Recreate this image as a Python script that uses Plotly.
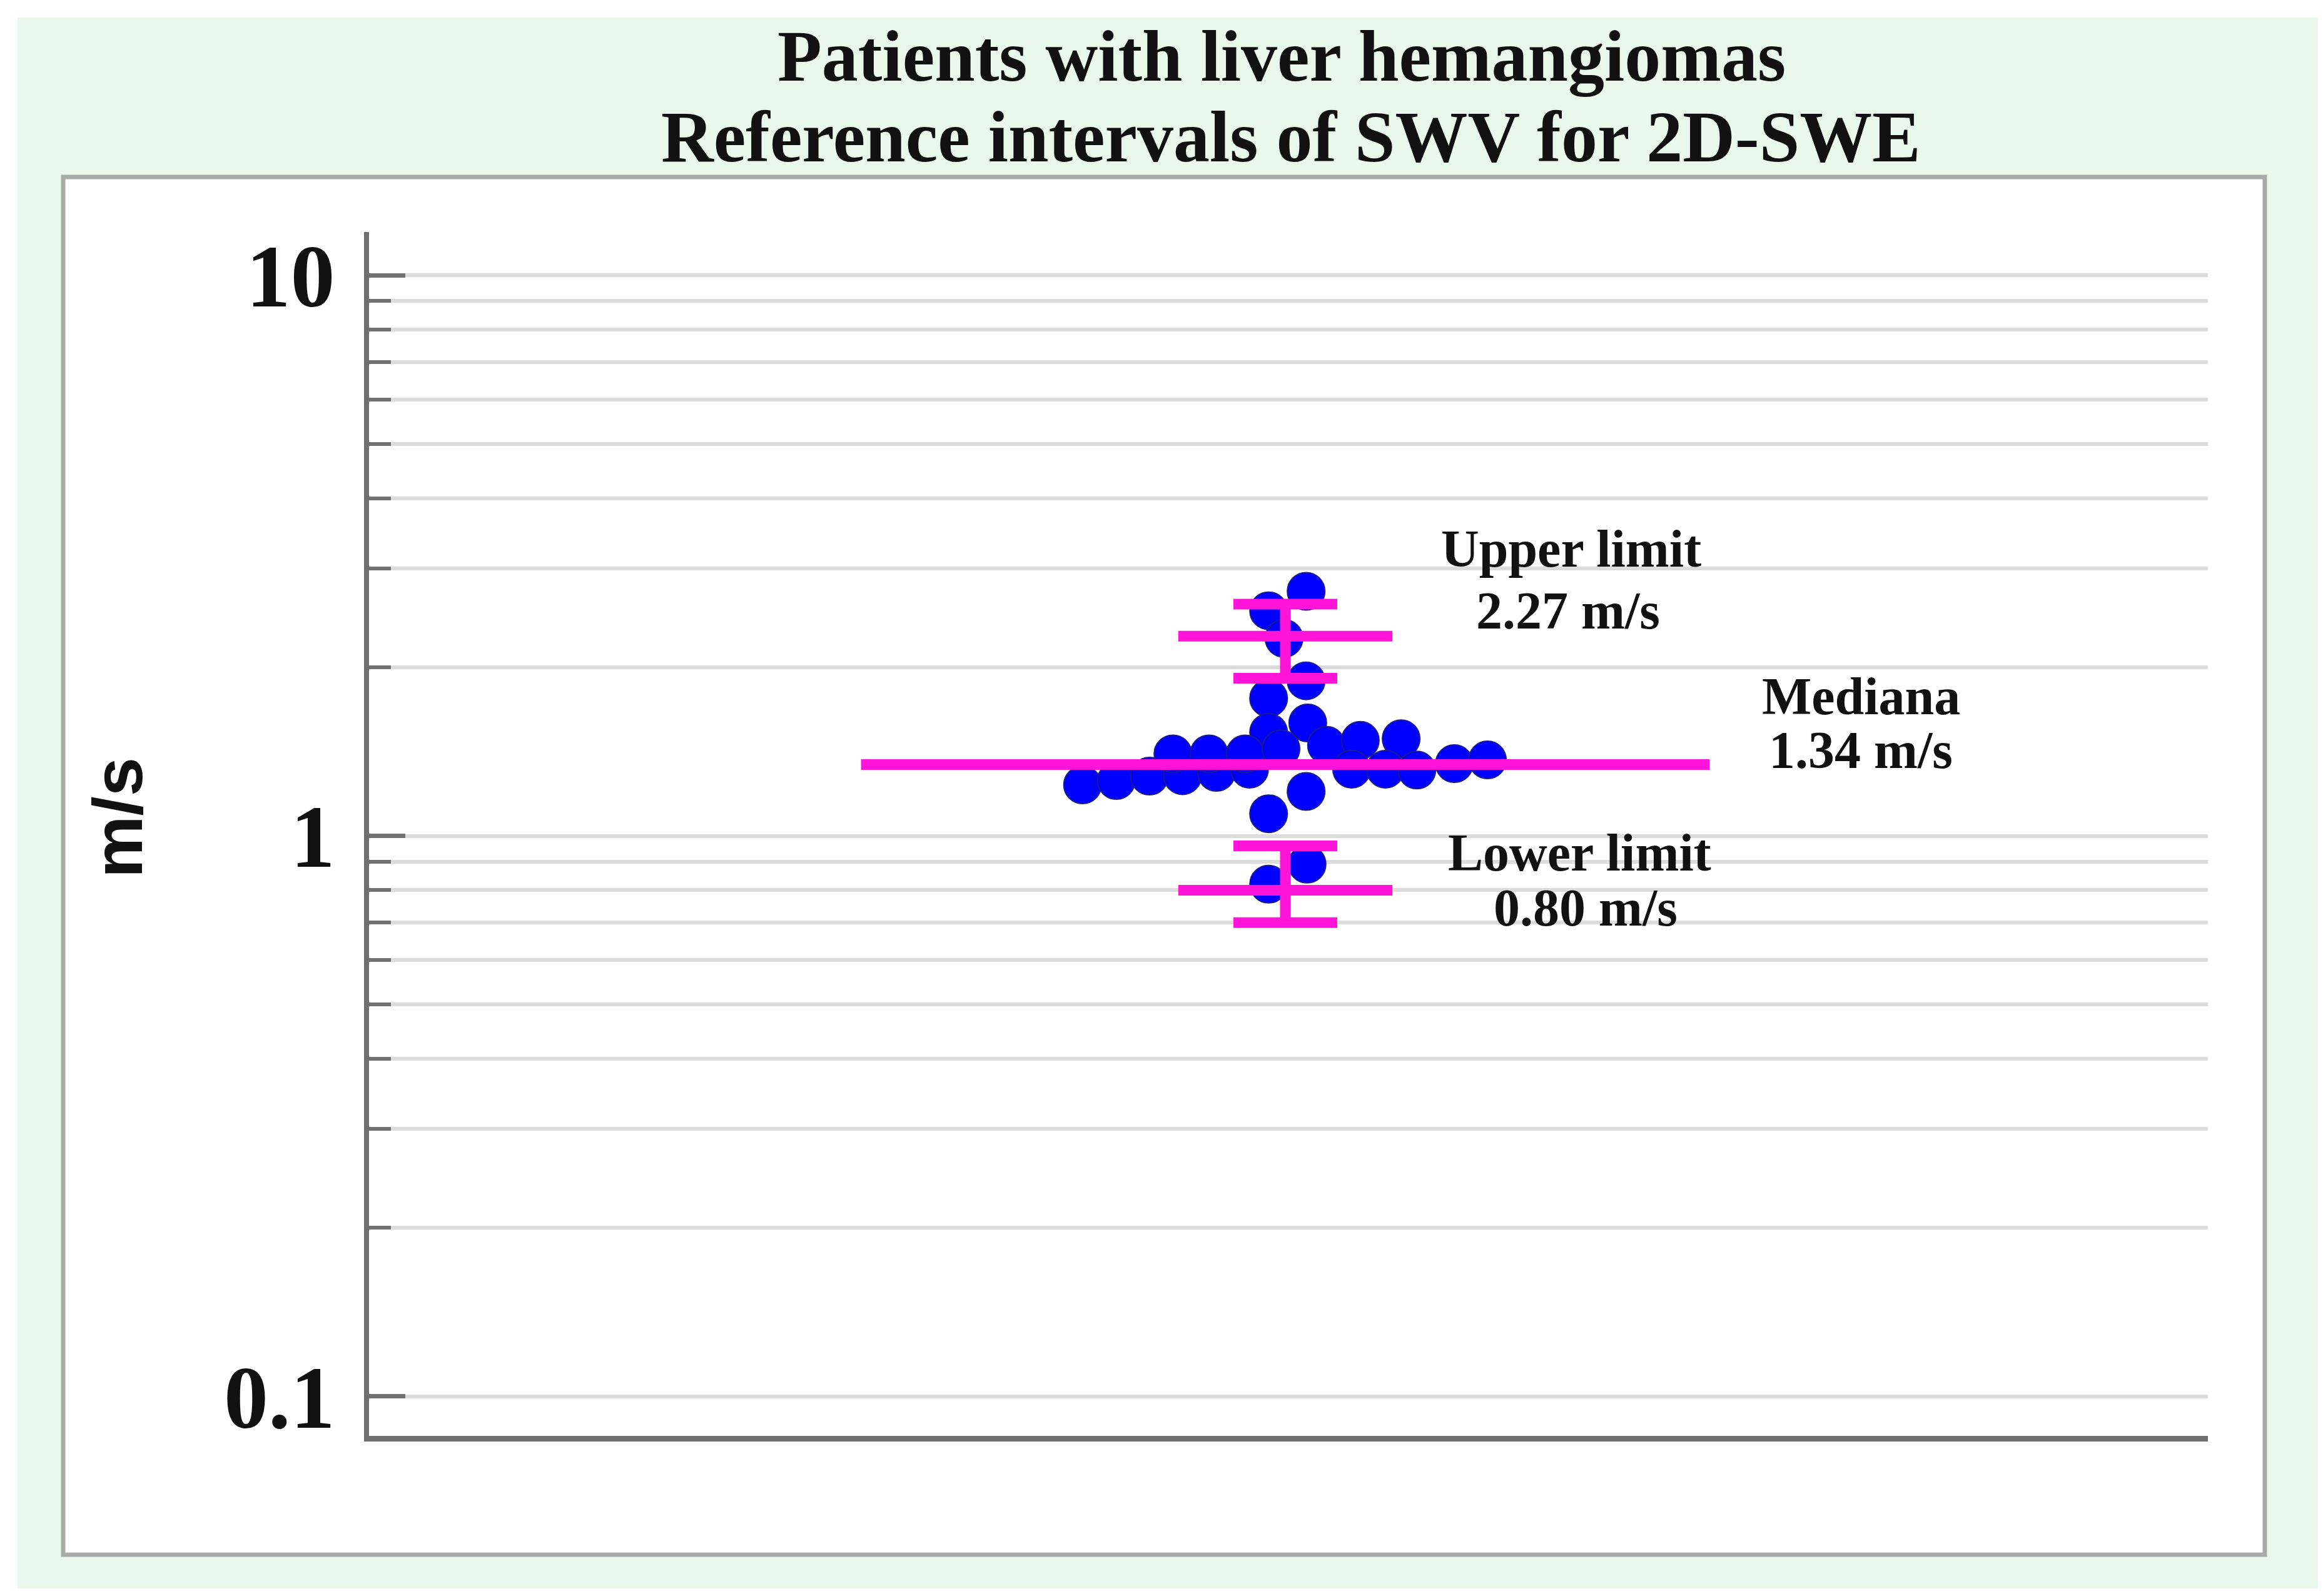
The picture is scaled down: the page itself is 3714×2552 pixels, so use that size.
import math
import plotly.graph_objects as go

# ---------------- data ----------------
# SWV values of the individual patients (m/s) and their horizontal swarm offset (dot widths)
swv_values = [2.73, 2.52, 2.25, 1.89, 1.76, 1.59, 1.53, 1.20, 1.095, 0.89, 0.82,
              1.233, 1.255, 1.278, 1.28, 1.298, 1.315,
              1.40, 1.40, 1.40,
              1.43, 1.45,
              1.48, 1.49,
              1.315, 1.315, 1.31,
              1.345, 1.366]
swarm_offset = [0.62, -0.50, -0.04, 0.62, -0.50, 0.67, -0.50, 0.62, -0.50, 0.65, -0.50,
                -6.06, -5.05, -4.06, -3.07, -2.06, -1.07,
                -3.36, -2.28, -1.20,
                -0.13, 1.23,
                2.24, 3.46,
                1.98, 2.99, 3.93,
                5.05, 6.04]

median_value = 1.34
limit_names = ["Upper limit", "Lower limit"]
limit_values = [2.27, 0.80]
limit_ci_low = [1.91, 0.70]
limit_ci_high = [2.59, 0.96]

major_ticks = [0.1, 1, 10]
major_labels = ["0.1", "1", "10"]
minor_ticks = [0.2, 0.3, 0.4, 0.5, 0.6, 0.7, 0.8, 0.9, 2, 3, 4, 5, 6, 7, 8, 9]

title_lines = ["Patients with liver hemangiomas", "Reference intervals of SWV for 2D-SWE"]
y_title = "m/s"

# ---------------- geometry / style ----------------
W, H = 3714, 2552
ML, MR, MT, MB = 582, 192, 363, 264
PW, PH = W - ML - MR, H - MT - MB
DOT_PX = 53.5          # px per x unit (one dot width)
X0_PX = 2047           # pixel of category centre
x_range = [(ML - X0_PX) / DOT_PX, (W - MR - X0_PX) / DOT_PX]
y_range = [-1.0703, 1.077]

MAG = "#ff14d8"
GRAY = "#707070"
GRID = "#dcdcdc"
SERIF = "Liberation Serif"


def px_to_paper_x(px):
    return (px - ML) / PW


def px_to_paper_y(py):
    return (H - MB - py) / PH


fig = go.Figure()

# dots
fig.add_trace(go.Scatter(
    x=swarm_offset, y=swv_values, mode="markers",
    marker=dict(size=60, color="#0000ff", line=dict(color="#1a1a8c", width=2)),
    showlegend=False, hoverinfo="y"))

# median line
MED_HALF = 12.68
fig.add_trace(go.Scatter(x=[-MED_HALF, MED_HALF], y=[median_value, median_value],
                         mode="lines", line=dict(color=MAG, width=17), showlegend=False))

# limit lines
LIM_HALF = 3.2
for v in limit_values:
    fig.add_trace(go.Scatter(x=[-LIM_HALF, LIM_HALF], y=[v, v], mode="lines",
                             line=dict(color=MAG, width=17), showlegend=False))

# confidence intervals of the limits
fig.add_trace(go.Scatter(
    x=[0] * len(limit_values), y=limit_values, mode="markers",
    marker=dict(size=1, color="rgba(0,0,0,0)"),
    error_y=dict(type="data", symmetric=False,
                 array=[h - v for h, v in zip(limit_ci_high, limit_values)],
                 arrayminus=[v - l for l, v in zip(limit_ci_low, limit_values)],
                 color=MAG, thickness=17, width=83),
    showlegend=False, hoverinfo="skip"))

# background decorations
shapes = [
    dict(type="rect", xref="paper", yref="paper", layer="below",
         x0=px_to_paper_x(20), x1=px_to_paper_x(3703),
         y0=px_to_paper_y(2532), y1=px_to_paper_y(20),
         fillcolor="#eaf8ec", line=dict(width=0)),
    dict(type="rect", xref="paper", yref="paper", layer="below",
         x0=px_to_paper_x(93), x1=px_to_paper_x(3613),
         y0=px_to_paper_y(2478), y1=px_to_paper_y(275),
         fillcolor="#ffffff", line=dict(color="#a9aba9", width=7)),
]

ann_font = dict(family=SERIF, size=84, color="#111111", weight="bold")
annotations = [
    dict(text=title_lines[0], xref="paper", yref="paper", x=px_to_paper_x(2041),
         y=px_to_paper_y(83), xanchor="center", yanchor="middle", showarrow=False,
         font=dict(family=SERIF, size=116, color="#111111", weight="bold")),
    dict(text=title_lines[1], xref="paper", yref="paper", x=px_to_paper_x(2056),
         y=px_to_paper_y(211), xanchor="center", yanchor="middle", showarrow=False,
         font=dict(family=SERIF, size=116, color="#111111", weight="bold")),
    dict(text=y_title, xref="paper", yref="paper", x=px_to_paper_x(180),
         y=px_to_paper_y(1300), xanchor="center", yanchor="middle", showarrow=False,
         textangle=-90, font=dict(family="Liberation Sans", size=112, color="#111111", weight="bold")),
]

# labels next to the reference lines (x in dot units, y in log10 units)
label_specs = [
    (limit_names[0], 8.54, math.log10(limit_values[0]) + 0.156),
    (f"{limit_values[0]:.2f} m/s", 8.45, math.log10(limit_values[0]) + 0.046),
    ("Mediana", 17.2, math.log10(median_value) + 0.122),
    (f"{median_value:.2f} m/s", 17.2, math.log10(median_value) + 0.026),
    (limit_names[1], 8.80, math.log10(limit_values[1]) + 0.067),
    (f"{limit_values[1]:.2f} m/s", 8.97, math.log10(limit_values[1]) - 0.031),
]
for txt, xx, yy in label_specs:
    annotations.append(dict(text=txt, x=xx, y=yy, xref="x", yref="y", showarrow=False,
                            xanchor="center", yanchor="middle", font=ann_font))

fig.update_layout(
    width=W, height=H,
    margin=dict(l=ML, r=MR, t=MT, b=MB, autoexpand=False),
    paper_bgcolor="#ffffff", plot_bgcolor="rgba(0,0,0,0)",
    shapes=shapes, annotations=annotations, showlegend=False,
)

fig.update_xaxes(range=x_range, showgrid=False, zeroline=False, showticklabels=False,
                 ticks="", showline=True, linecolor=GRAY, linewidth=9)
fig.update_yaxes(type="log", range=y_range, tickmode="array", tickvals=major_ticks,
                 ticktext=major_labels, ticks="inside", ticklen=58, tickwidth=7,
                 tickcolor=GRAY, showline=True, linecolor=GRAY, linewidth=8,
                 showgrid=True, gridcolor=GRID, gridwidth=6, zeroline=False,
                 ticklabelstandoff=18,
                 tickfont=dict(family=SERIF, size=142, color="#111111", weight="bold"),
                 minor=dict(tickmode="array", tickvals=minor_ticks, ticks="inside",
                            ticklen=35, tickwidth=6, tickcolor=GRAY,
                            showgrid=True, gridcolor=GRID, gridwidth=6))

fig.write_html("out.html")
